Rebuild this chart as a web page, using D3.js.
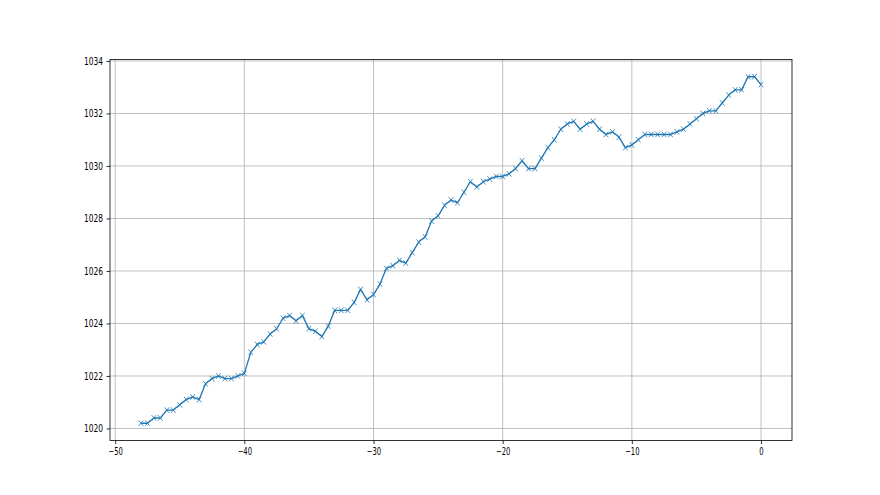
<!DOCTYPE html>
<html>
<head>
<meta charset="utf-8">
<script src="https://cdn.jsdelivr.net/npm/d3@7"></script>
<style>
  body { margin: 0; background: #fff; }
  .tick text { font-family: "DejaVu Sans", sans-serif; font-size: 10px; fill: #000; }
</style>
</head>
<body>
<div id="chart"></div>
<script>
const [width, height] = [880, 495];

// Step 1 (Dataset)
const hours = [
  -48, -47.5, -47, -46.5, -46, -45.5, -45, -44.5, -44, -43.5,
  -43, -42.5, -42, -41.5, -41, -40.5, -40, -39.5, -39, -38.5,
  -38, -37.5, -37, -36.5, -36, -35.5, -35, -34.5, -34, -33.5,
  -33, -32.5, -32, -31.5, -31, -30.5, -30, -29.5, -29, -28.5,
  -28, -27.5, -27, -26.5, -26, -25.5, -25, -24.5, -24, -23.5,
  -23, -22.5, -22, -21.5, -21, -20.5, -20, -19.5, -19, -18.5,
  -18, -17.5, -17, -16.5, -16, -15.5, -15, -14.5, -14, -13.5,
  -13, -12.5, -12, -11.5, -11, -10.5, -10, -9.5, -9, -8.5,
  -8, -7.5, -7, -6.5, -6, -5.5, -5, -4.5, -4, -3.5,
  -3, -2.5, -2, -1.5, -1, -0.5, 0
];

const pressure = [
  1020.2, 1020.2, 1020.4, 1020.4, 1020.7, 1020.7, 1020.9, 1021.1, 1021.2, 1021.1,
  1021.7, 1021.9, 1022.0, 1021.9, 1021.9, 1022.0, 1022.1, 1022.9, 1023.2, 1023.3,
  1023.6, 1023.8, 1024.2, 1024.3, 1024.1, 1024.3, 1023.8, 1023.7, 1023.5, 1023.9,
  1024.5, 1024.5, 1024.5, 1024.8, 1025.3, 1024.9, 1025.1, 1025.5, 1026.1, 1026.2,
  1026.4, 1026.3, 1026.7, 1027.1, 1027.3, 1027.9, 1028.1, 1028.5, 1028.7, 1028.6,
  1029.0, 1029.4, 1029.2, 1029.4, 1029.5, 1029.6, 1029.6, 1029.7, 1029.9, 1030.2,
  1029.9, 1029.9, 1030.3, 1030.7, 1031.0, 1031.4, 1031.6, 1031.7, 1031.4, 1031.6,
  1031.7, 1031.4, 1031.2, 1031.3, 1031.1, 1030.7, 1030.8, 1031.0, 1031.2, 1031.2,
  1031.2, 1031.2, 1031.2, 1031.3, 1031.4, 1031.6, 1031.8, 1032.0, 1032.1, 1032.1,
  1032.4, 1032.7, 1032.9, 1032.9, 1033.4, 1033.4, 1033.1
];

const xTicks = [-50, -40, -30, -20, -10, 0];
const yTicks = [1020, 1022, 1024, 1026, 1028, 1030, 1032, 1034];

const data = hours.map((h, i) => ({ x: h, y: pressure[i] }));

// matplotlib default subplot box
const margin = { top: 59.4, right: 88, bottom: 54.45, left: 110 };
const w = width - margin.left - margin.right;
const h = height - margin.top - margin.bottom;

const svg = d3.select("#chart")
    .append("svg")
    .attr("width", width)
    .attr("height", height);

const g = svg.append("g")
    .attr("transform", `translate(${margin.left}, ${margin.top})`);

// 5% padding like matplotlib autoscale
const [x_min, x_max] = d3.extent(hours);
const [y_min, y_max] = d3.extent(pressure);
const xPad = (x_max - x_min) * 0.05;
const yPad = (y_max - y_min) * 0.05;

const x = d3.scaleLinear()
    .domain([x_min - xPad, x_max + xPad])
    .range([0, w]);

const y = d3.scaleLinear()
    .domain([y_min - yPad, y_max + yPad])
    .range([h, 0]);

const fmt = d => String(d).replace("-", "\u2212");

// grid
g.append("g")
    .selectAll("line")
    .data(xTicks)
    .join("line")
    .attr("x1", d => x(d)).attr("x2", d => x(d))
    .attr("y1", 0).attr("y2", h)
    .attr("stroke", "#b0b0b0")
    .attr("stroke-width", 0.8);

g.append("g")
    .selectAll("line")
    .data(yTicks)
    .join("line")
    .attr("x1", 0).attr("x2", w)
    .attr("y1", d => y(d)).attr("y2", d => y(d))
    .attr("stroke", "#b0b0b0")
    .attr("stroke-width", 0.8);

// line
const line = d3.line()
    .x(d => x(d.x))
    .y(d => y(d.y));

g.append("path")
    .datum(data)
    .attr("fill", "none")
    .attr("stroke", "#1f77b4")
    .attr("stroke-width", 1.3)
    .attr("stroke-linejoin", "round")
    .attr("d", line);

// x markers
const mx = 2.3, my = 2.8;
g.append("g")
    .selectAll("path")
    .data(data)
    .join("path")
    .attr("d", d => {
        const cx = x(d.x), cy = y(d.y);
        return `M${cx - mx},${cy - my}L${cx + mx},${cy + my}M${cx - mx},${cy + my}L${cx + mx},${cy - my}`;
    })
    .attr("stroke", "#1f77b4")
    .attr("stroke-opacity", 0.8)
    .attr("stroke-width", 1)
    .attr("fill", "none");

// axes
const x_axis = d3.axisBottom(x)
    .tickValues(xTicks)
    .tickSize(3.5)
    .tickPadding(3.5)
    .tickFormat(fmt);

const y_axis = d3.axisLeft(y)
    .tickValues(yTicks)
    .tickSize(3.5)
    .tickPadding(3.5)
    .tickFormat(d3.format("d"));

const xa = g.append("g")
    .attr("transform", `translate(0, ${h})`)
    .call(x_axis);

const ya = g.append("g")
    .call(y_axis);

[xa, ya].forEach(a => {
    a.select(".domain").remove();
    a.selectAll(".tick line").attr("stroke", "#000").attr("stroke-width", 0.8);
});

// narrow labels like the reference
xa.selectAll(".tick text").attr("transform", "scale(0.68,1)");
ya.selectAll(".tick text")
    .attr("x", 0)
    .attr("transform", "translate(-7,0) scale(0.75,1)");

// spines
g.append("rect")
    .attr("x", 0).attr("y", 0)
    .attr("width", w).attr("height", h)
    .attr("fill", "none")
    .attr("stroke", "#000")
    .attr("stroke-width", 0.8);
</script>
</body>
</html>
